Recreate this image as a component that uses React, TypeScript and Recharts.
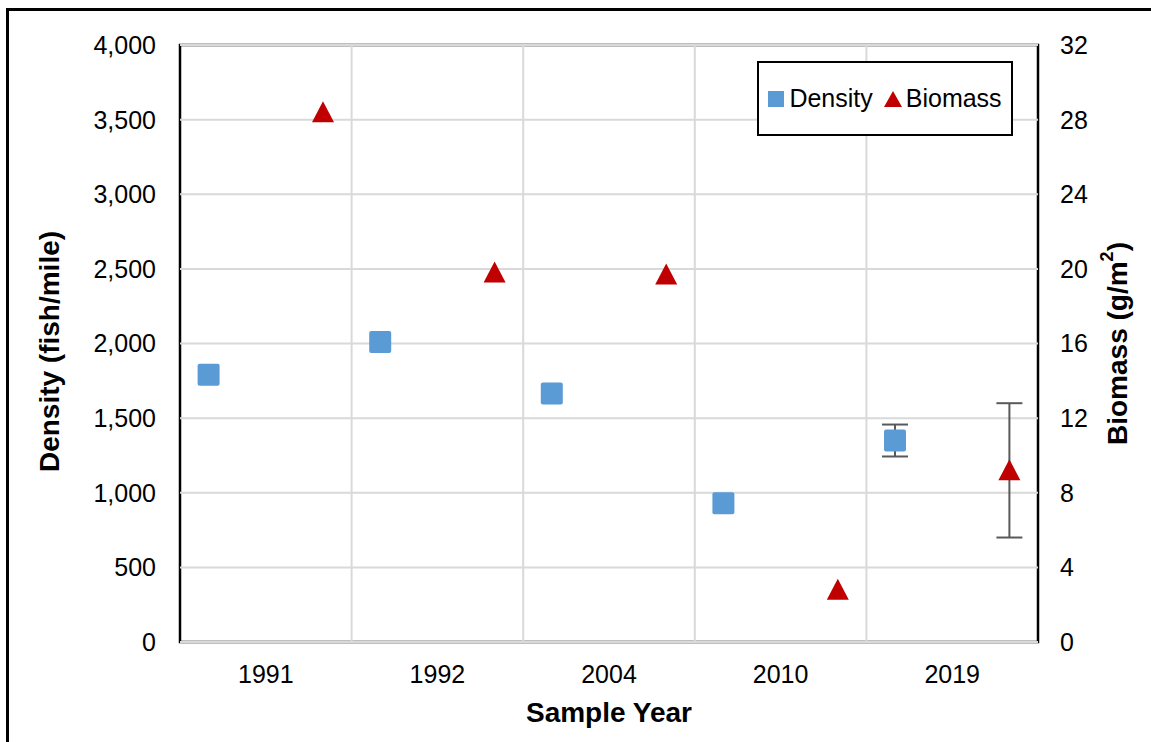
import React from "react";
import {
  ScatterChart,
  Scatter,
  XAxis,
  YAxis,
  ErrorBar,
  ReferenceLine,
  ReferenceArea,
} from "recharts";

const YEARS = ["1991", "1992", "2004", "2010", "2019"];
const DENSITY = [1790, 2010, 1665, 930, 1350];
const DENSITY_ERR = [0, 0, 0, 0, 107];
const BIOMASS = [28.4, 19.8, 19.7, 2.8, 9.2];
const BIOMASS_ERR = [0, 0, 0, 0, 3.6];
const DENSITY_TICKS = [0, 500, 1000, 1500, 2000, 2500, 3000, 3500, 4000];
const BIOMASS_TICKS = [0, 4, 8, 12, 16, 20, 24, 28, 32];

const BLUE = "#5B9BD5";
const RED = "#C00000";
const GRID = "#d9d9d9";
const FONT = "'Liberation Sans', Arial, sans-serif";

// density sits in the left sixth of each year slot, biomass in the right sixth
const densityData = DENSITY.map((v, i) => ({ x: i + 1 / 6, y: v, err: DENSITY_ERR[i] }));
const biomassData = BIOMASS.map((v, i) => ({ x: i + 5 / 6, y: v, err: BIOMASS_ERR[i] }));
const yearTicks = YEARS.map((_, i) => i + 0.5);
const slotEdges = YEARS.slice(1).map((_, i) => i + 1);

function Square({ cx, cy }: { cx?: number; cy?: number }) {
  if (cx == null || cy == null) return null;
  return <rect x={cx - 11} y={cy - 11} width={22} height={22} rx={2} fill={BLUE} />;
}

function Triangle({ cx, cy }: { cx?: number; cy?: number }) {
  if (cx == null || cy == null) return null;
  return (
    <polygon
      points={`${cx},${cy - 11} ${cx + 11},${cy + 10} ${cx - 11},${cy + 10}`}
      fill={RED}
    />
  );
}

function LegendBox() {
  return (
    <div
      style={{
        position: "absolute",
        left: 757,
        top: 61,
        boxSizing: "border-box",
        width: 256,
        height: 75,
        border: "2.5px solid #000",
        background: "#fff",
        display: "flex",
        alignItems: "center",
        justifyContent: "center",
        fontFamily: FONT,
        fontSize: 25,
        color: "#000",
      }}
    >
      <span style={{ width: 16, height: 16, background: BLUE, marginRight: 5 }} />
      <span>Density</span>
      <svg width={18} height={16} style={{ marginLeft: 11, marginRight: 4 }}>
        <polygon points="9,0 18,16 0,16" fill={RED} />
      </svg>
      <span>Biomass</span>
    </div>
  );
}

const tickStyle = { fontSize: 25, fill: "#000", fontFamily: FONT };

export default function App() {
  return (
    <div
      style={{
        position: "absolute",
        left: 0,
        top: 0,
        width: 1151,
        height: 742,
        overflow: "hidden",
        background: "#fff",
      }}
    >
      <div
        style={{
          position: "absolute",
          left: 6,
          top: 8,
          width: 1300,
          height: 900,
          border: "3px solid #000",
        }}
      />
      <div style={{ position: "absolute", left: 0, top: 0 }}>
        <ScatterChart
          width={1151}
          height={742}
          margin={{ top: 45, right: 0, bottom: 0, left: 0 }}
        >
          <XAxis
            type="number"
            dataKey="x"
            domain={[0, 5]}
            ticks={yearTicks}
            tickFormatter={(v: number) => YEARS[Math.floor(v)]}
            height={100}
            axisLine={false}
            tickLine={false}
            tickMargin={17}
            tick={tickStyle}
            label={{
              content: ({ viewBox }: any) => (
                <text
                  x={viewBox.x + viewBox.width / 2}
                  y={viewBox.y + 80}
                  textAnchor="middle"
                  fontFamily={FONT}
                  fontSize={28}
                  fontWeight="bold"
                  fill="#000"
                >
                  Sample Year
                </text>
              ),
            }}
          />
          <YAxis
            yAxisId="left"
            type="number"
            dataKey="y"
            domain={[0, 4000]}
            ticks={DENSITY_TICKS}
            tickFormatter={(v: number) => v.toLocaleString("en-US")}
            width={180}
            axisLine={false}
            tickLine={false}
            tickMargin={18}
            tick={tickStyle}
            label={{
              content: ({ viewBox }: any) => {
                const cx = viewBox.x + 49;
                const cy = viewBox.y + viewBox.height / 2 + 8;
                return (
                  <text
                    x={cx}
                    y={cy}
                    transform={`rotate(-90 ${cx} ${cy})`}
                    textAnchor="middle"
                    dominantBaseline="central"
                    fontFamily={FONT}
                    fontSize={28}
                    fontWeight="bold"
                    fill="#000"
                  >
                    Density (fish/mile)
                  </text>
                );
              },
            }}
          />
          <YAxis
            yAxisId="right"
            orientation="right"
            type="number"
            dataKey="y"
            domain={[0, 32]}
            ticks={BIOMASS_TICKS}
            width={113}
            axisLine={false}
            tickLine={false}
            tickMargin={16}
            tick={tickStyle}
            label={{
              content: ({ viewBox }: any) => {
                const cx = viewBox.x + 79;
                const cy = viewBox.y + viewBox.height / 2;
                return (
                  <text
                    x={cx}
                    y={cy}
                    transform={`rotate(-90 ${cx} ${cy})`}
                    textAnchor="middle"
                    dominantBaseline="central"
                    fontFamily={FONT}
                    fontSize={28}
                    fontWeight="bold"
                    fill="#000"
                  >
                    Biomass (g/m
                    <tspan dy={-10} fontSize={18}>2</tspan>
                    <tspan dy={10}>)</tspan>
                  </text>
                );
              },
            }}
          />
          {DENSITY_TICKS.map((t) => (
            <ReferenceLine key={"h" + t} yAxisId="left" y={t} stroke={GRID} strokeWidth={2} />
          ))}
          {slotEdges.map((e) => (
            <ReferenceLine key={"v" + e} yAxisId="left" x={e} stroke={GRID} strokeWidth={2} />
          ))}
          <ReferenceArea
            yAxisId="left"
            x1={0}
            x2={5}
            y1={0}
            y2={4000}
            fill="none"
            fillOpacity={0}
            stroke="#000"
            strokeWidth={2.5}
          />
          <Scatter
            name="Density"
            yAxisId="left"
            data={densityData}
            shape={(p: any) => <Square cx={p.cx} cy={p.cy} />}
            isAnimationActive={false}
          >
            <ErrorBar dataKey="err" direction="y" width={13} stroke="#595959" strokeWidth={2} />
          </Scatter>
          <Scatter
            name="Biomass"
            yAxisId="right"
            data={biomassData}
            shape={(p: any) => <Triangle cx={p.cx} cy={p.cy} />}
            isAnimationActive={false}
          >
            <ErrorBar dataKey="err" direction="y" width={13} stroke="#595959" strokeWidth={2} />
          </Scatter>
        </ScatterChart>
      </div>
      <LegendBox />
    </div>
  );
}
